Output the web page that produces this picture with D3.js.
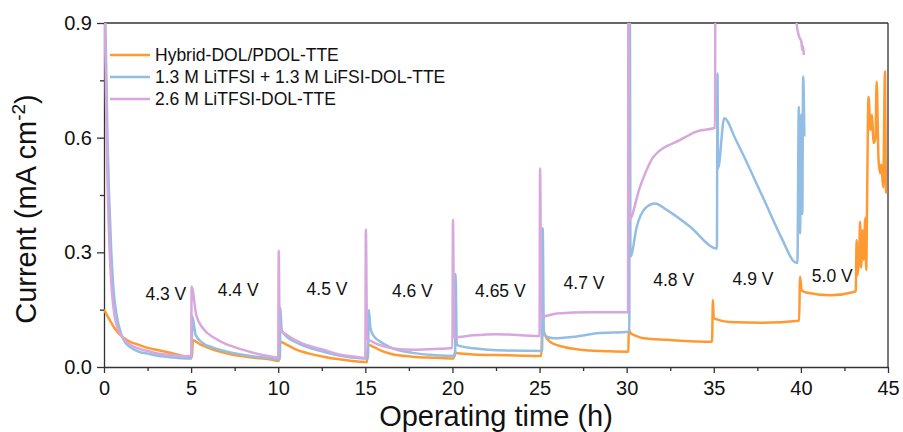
<!DOCTYPE html>
<html>
<head>
<meta charset="utf-8">
<script src="https://cdn.jsdelivr.net/npm/d3@7"></script>
<style>
  body { margin: 0; background: #fff; }
  svg { display: block; font-family: "Liberation Sans", Arial, sans-serif; }
  .axis path, .axis line { stroke: #333; stroke-width: 1.3; }
  .axis text { fill: #111; }
</style>
</head>
<body>
<div id="container"><svg></svg></div>
<script>
// ---- data: [time (h), current (mA cm-2)] ----
// values above 0.9 are off the top of the axis
const seriesNames = ['Hybrid-DOL/PDOL-TTE', '1.3 M LiTFSI + 1.3 M LiFSI-DOL-TTE', '2.6 M LiTFSI-DOL-TTE'];
const seriesColors = ['#FF9A33', '#94BDE4', '#D7A7DE'];

const hybridData = [
  [0, 0.15], [0.3, 0.125], [0.6, 0.102], [1.1, 0.077], [1.5, 0.066], [2, 0.058], [2.5, 0.05], [3, 0.045], [4, 0.035], [5, 0.026],
  [5.05, 0.027], [5.1, 0.07], [5.5, 0.06], [6.3, 0.045], [7.4, 0.032], [8.5, 0.025], [9.5, 0.02], [10.05, 0.016],
  [10.1, 0.066], [10.5, 0.058], [11, 0.046], [11.8, 0.035], [12.6, 0.027], [13.5, 0.02], [14.7, 0.014], [15.1, 0.013],
  [15.15, 0.058], [15.5, 0.052], [15.8, 0.045], [16.5, 0.034], [17.7, 0.027], [19, 0.024], [20.05, 0.022],
  [20.15, 0.038], [20.3, 0.036], [21.2, 0.033], [23, 0.031], [25.1, 0.029],
  [25.15, 0.11], [25.3, 0.085], [25.6, 0.066], [26.35, 0.053], [27.9, 0.043], [29, 0.041], [30.1, 0.04],
  [30.12, 0.1], [30.2, 0.09], [30.5, 0.082], [30.97, 0.075], [32.3, 0.071], [34.9, 0.066],
  [34.95, 0.175], [35.0, 0.127], [35.9, 0.118], [37.8, 0.116], [39.9, 0.121],
  [39.95, 0.236], [40.05, 0.2], [40.3, 0.195], [41.7, 0.188], [43.1, 0.197],
  [43.15, 0.2], [43.2, 0.332], [43.25, 0.24], [43.35, 0.3], [43.4, 0.38], [43.45, 0.26], [43.55, 0.358],
  [43.6, 0.28], [43.7, 0.39], [43.75, 0.254], [43.8, 0.437], [43.88, 0.707], [44.0, 0.62], [44.08, 0.66],
  [44.17, 0.586], [44.28, 0.6], [44.35, 0.746], [44.45, 0.55], [44.54, 0.507], [44.62, 0.53],
  [44.72, 0.47], [44.83, 0.773], [44.88, 0.46], [44.93, 0.455]
];

const dualSaltData = [
  [0, 0.96], [0.08, 0.9], [0.2, 0.6], [0.4, 0.32], [0.55, 0.2], [0.75, 0.13], [1.1, 0.073], [1.5, 0.052], [2, 0.04], [2.5, 0.035], [3, 0.03], [4, 0.025], [5.02, 0.022],
  [5.07, 0.133], [5.25, 0.085], [5.6, 0.065], [6.3, 0.05], [7.4, 0.037], [8.5, 0.028], [9.5, 0.023], [10.1, 0.02],
  [10.12, 0.155], [10.2, 0.097], [10.5, 0.079], [11, 0.065], [11.8, 0.05], [12.6, 0.04], [13.5, 0.03], [14.7, 0.023], [15.15, 0.022],
  [15.2, 0.149], [15.3, 0.1], [15.5, 0.08], [15.8, 0.068], [16.5, 0.05], [17.7, 0.037], [19, 0.031], [20.15, 0.029],
  [20.18, 0.243], [20.25, 0.058], [21.2, 0.049], [23.1, 0.043], [25.15, 0.042],
  [25.18, 0.363], [25.25, 0.084], [25.8, 0.075], [26.95, 0.079], [28.3, 0.088], [30.15, 0.092],
  [30.18, 0.95], [30.22, 0.289], [30.58, 0.367], [31.06, 0.415], [31.63, 0.428], [32.3, 0.411], [33.64, 0.367], [35.18, 0.31],
  [35.21, 0.768], [35.25, 0.52], [35.6, 0.651], [36.27, 0.594], [37.8, 0.446], [38.95, 0.332], [39.6, 0.276], [39.8, 0.272],
  [39.88, 0.681], [39.95, 0.35], [40.02, 0.66], [40.08, 0.4], [40.13, 0.76], [40.2, 0.603]
];

const singleSaltData = [
  [0, 0.97], [0.05, 0.9], [0.15, 0.6], [0.3, 0.33], [0.45, 0.2], [0.6, 0.135], [0.8, 0.1], [1.1, 0.075], [1.5, 0.058], [2, 0.048], [2.5, 0.042], [3, 0.036], [4, 0.031], [5.0, 0.028],
  [5.03, 0.21], [5.3, 0.135], [5.7, 0.1], [6.3, 0.077], [7, 0.06], [7.5, 0.052], [8.5, 0.038], [9.5, 0.028], [10.0, 0.025],
  [10.03, 0.304], [10.08, 0.1], [10.5, 0.084], [11, 0.07], [11.8, 0.055], [12.6, 0.045], [13.5, 0.033], [14.7, 0.025], [15.0, 0.023],
  [15.03, 0.36], [15.1, 0.075], [15.5, 0.064], [16, 0.055], [16.7, 0.048], [17.7, 0.045], [19, 0.047], [20.0, 0.05],
  [20.03, 0.385], [20.1, 0.078], [21.2, 0.083], [22.5, 0.086], [25.0, 0.081],
  [25.03, 0.52], [25.1, 0.132], [26.0, 0.14], [27.9, 0.143], [30.08, 0.143],
  [30.1, 1.2], [30.14, 0.385], [30.77, 0.472], [31.54, 0.55], [33.07, 0.594], [34.0, 0.616], [35.07, 0.626],
  [35.1, 1.2], [39.7, 1.2], [39.75, 0.9], [39.9, 0.864], [40.03, 0.85], [40.08, 0.83], [40.12, 0.84], [40.17, 0.816]
];

const allSeries = [hybridData, dualSaltData, singleSaltData];

// voltage step labels: text, centre time, baseline current
const stepLabels = ['4.3 V', '4.4 V', '4.5 V', '4.6 V', '4.65 V', '4.7 V', '4.8 V', '4.9 V', '5.0 V'];
const stepTimes = [3.55, 7.7, 12.8, 17.7, 22.75, 27.55, 32.7, 37.25, 41.8];
const stepCurrents = [0.175, 0.185, 0.188, 0.183, 0.182, 0.205, 0.211, 0.214, 0.223];

const xTicks = [0, 5, 10, 15, 20, 25, 30, 35, 40, 45];
const xMinor = [2.5, 7.5, 12.5, 17.5, 22.5, 27.5, 32.5, 37.5, 42.5];
const yTicks = [0, 0.3, 0.6, 0.9];
const yMinor = [0.15, 0.45, 0.75];

let width = 903, height = 432;
let padding = { left: 104, right: 15, top: 23, bottom: 65 };

let svg = d3.select('#container').select('svg')
    .attr('width', width)
    .attr('height', height);

let x = d3.scaleLinear().domain([0, 45]).range([padding.left, width - padding.right]);
let y = d3.scaleLinear().domain([0, 0.9]).range([height - padding.bottom, padding.top]);

// clip
svg.append('clipPath').attr('id', 'plot-clip')
    .append('rect')
    .attr('x', x(0)).attr('y', y(0.9))
    .attr('width', x(45) - x(0)).attr('height', y(0) - y(0.9));

// minor ticks
svg.append('g')
    .attr('class', 'axis')
    .attr('transform', `translate(0, ${y(0)})`)
    .call(d3.axisBottom(x).tickValues(xMinor).tickSize(4).tickFormat(''))
    .call(g => g.select('.domain').remove());
svg.append('g')
    .attr('class', 'axis')
    .attr('transform', `translate(${x(0)}, 0)`)
    .call(d3.axisLeft(y).tickValues(yMinor).tickSize(4).tickFormat(''))
    .call(g => g.select('.domain').remove());

// x axis
svg.append('g')
    .attr('class', 'axis')
    .attr('transform', `translate(0, ${y(0)})`)
    .call(d3.axisBottom(x).tickValues(xTicks).tickSize(6).tickSizeOuter(0).tickPadding(8).tickFormat(d => d))
    .attr('font-family', null)
    .attr('font-size', '20px');

// y axis
svg.append('g')
    .attr('class', 'axis')
    .attr('transform', `translate(${x(0)}, 0)`)
    .call(d3.axisLeft(y).tickValues(yTicks).tickSize(7).tickSizeOuter(0).tickPadding(5).tickFormat(d3.format('.1f')))
    .attr('font-family', null)
    .attr('font-size', '20px');

// frame top / right
svg.append('line')
    .attr('x1', x(0)).attr('x2', x(45)).attr('y1', y(0.9)).attr('y2', y(0.9))
    .attr('stroke', '#333').attr('stroke-width', 1.3);
svg.append('line')
    .attr('x1', x(45)).attr('x2', x(45)).attr('y1', y(0.9)).attr('y2', y(0))
    .attr('stroke', '#333').attr('stroke-width', 1.3);

// axis titles
svg.append('text')
    .attr('x', (x(0) + x(45)) / 2)
    .attr('y', 426)
    .attr('text-anchor', 'middle')
    .attr('font-size', '29px')
    .attr('fill', '#111')
    .text('Operating time (h)');

let ytitle = svg.append('text')
    .attr('transform', 'translate(36, 209) rotate(-90)')
    .attr('text-anchor', 'middle')
    .attr('font-size', '29px')
    .attr('fill', '#111');
ytitle.append('tspan').text('Current (mA cm');
ytitle.append('tspan').attr('font-size', '19px').attr('dy', '-11').text('-2');
ytitle.append('tspan').attr('dy', '11').text(')');

// curves
let line = d3.line()
    .x(d => x(d[0]))
    .y(d => y(d[1]))
    .curve(d3.curveMonotoneX);

let lines = svg.append('g').attr('clip-path', 'url(#plot-clip)');
allSeries.forEach((s, i) => {
    lines.append('path')
        .datum(s)
        .attr('d', line)
        .attr('fill', 'none')
        .attr('stroke', seriesColors[i])
        .attr('stroke-width', 2.5)
        .attr('stroke-linejoin', 'round');
});

// step labels
svg.append('g')
    .selectAll('text')
    .data(stepLabels)
    .enter().append('text')
    .attr('x', (d, i) => x(stepTimes[i]))
    .attr('y', (d, i) => y(stepCurrents[i]))
    .attr('text-anchor', 'middle')
    .attr('font-size', '17.5px')
    .attr('fill', '#111')
    .text(d => d);

// legend
let legend = svg.append('g');
seriesNames.forEach((name, i) => {
    let ly = 55 + i * 22;
    legend.append('line')
        .attr('x1', 110).attr('x2', 150).attr('y1', ly).attr('y2', ly)
        .attr('stroke', seriesColors[i]).attr('stroke-width', 2.6);
    legend.append('text')
        .attr('x', 155).attr('y', ly)
        .attr('dy', '0.36em')
        .attr('font-size', '17.5px')
        .attr('fill', '#111')
        .text(name);
});
</script>
</body>
</html>
